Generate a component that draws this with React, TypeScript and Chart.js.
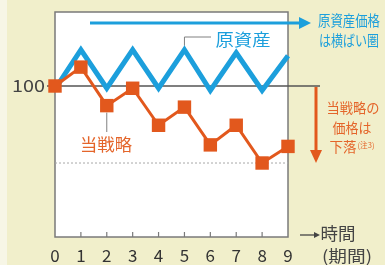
import React, { useEffect, useRef } from "react";
import { Chart, registerables } from "chart.js";
Chart.register(...registerables);

const periods = ["0", "1", "2", "3", "4", "5", "6", "7", "8", "9"];
const underlying = [98, 124, 98.5, 124, 98.5, 124, 97, 122, 97, 120];
const strategy = [100, 112.5, 87, 98.5, 74, 86, 61, 74, 49, 60];
const yTickLabels = ["100"];
const baseLevel = 100;
const floorLevel = 49;
const yMin = 0;
const yMax = 149;

const FONT = "'Noto Sans CJK JP', 'Noto Sans', sans-serif";
const BLUE = "#1c9fdc";
const ORANGE = "#e2581d";
const ORANGE_TXT = "#e4652a";
const CREAM = "#f1efcb";

function fitText(ctx: CanvasRenderingContext2D, s: string, cx: number, cy: number, size: number, color: string, width?: number, align: CanvasTextAlign = "center") {
  ctx.save();
  ctx.font = `${size}px ${FONT}`;
  ctx.fillStyle = color;
  ctx.textBaseline = "middle";
  ctx.textAlign = align;
  const w = ctx.measureText(s).width;
  const sx = width ? width / w : 1;
  ctx.translate(cx, cy);
  ctx.scale(sx, 1);
  ctx.fillText(s, 0, 0);
  ctx.restore();
}

const decor = {
  id: "decor",
  beforeDraw(chart: any) {
    const { ctx, chartArea: a, width, height } = chart;
    ctx.save();
    ctx.fillStyle = CREAM;
    ctx.fillRect(0, 0, width, height);
    ctx.fillStyle = "#f7f6e6";
    ctx.fillRect(0, 0, 7, height);
    ctx.fillStyle = "#ffffff";
    ctx.fillRect(a.left, a.top, a.right - a.left, a.bottom - a.top);
    ctx.restore();
  },
  beforeDatasetsDraw(chart: any) {
    const { ctx, chartArea: a, scales } = chart;
    const y = scales.y;
    const x = scales.x;
    ctx.save();
    // plot border
    ctx.strokeStyle = "#7a7a7a";
    ctx.lineWidth = 1.5;
    ctx.strokeRect(a.left, a.top, a.right - a.left, a.bottom - a.top);
    // inner ticks
    ctx.lineWidth = 1.2;
    for (let i = 1; i < periods.length - 1; i++) {
      const px = x.getPixelForValue(i);
      ctx.beginPath();
      ctx.moveTo(px, a.bottom);
      ctx.lineTo(px, a.bottom - 5);
      ctx.stroke();
    }
    // x tick labels
    periods.forEach((lab, i) => {
      fitText(ctx, lab, x.getPixelForValue(i), a.bottom + 19, 17, "#333");
    });
    // y tick label
    yTickLabels.forEach((lab) => {
      fitText(ctx, lab, a.left - 10, y.getPixelForValue(Number(lab)), 17, "#444", 33, "right");
    });
    // dashed floor line
    const fy = y.getPixelForValue(floorLevel);
    ctx.strokeStyle = "#a8a8a8";
    ctx.lineWidth = 1;
    ctx.setLineDash([2, 2]);
    ctx.beginPath();
    ctx.moveTo(a.left, fy);
    ctx.lineTo(a.right, fy);
    ctx.stroke();
    ctx.setLineDash([]);
    // base line 100
    const by = y.getPixelForValue(baseLevel);
    ctx.strokeStyle = "#555555";
    ctx.lineWidth = 1.5;
    ctx.beginPath();
    ctx.moveTo(a.left - 8, by);
    ctx.lineTo(320, by);
    ctx.stroke();
    // leader lines
    ctx.strokeStyle = "#808080";
    ctx.lineWidth = 1;
    const p5x = x.getPixelForValue(5);
    ctx.beginPath();
    ctx.moveTo(p5x, y.getPixelForValue(underlying[5]) - 4);
    ctx.lineTo(p5x, 37);
    ctx.lineTo(211, 37);
    ctx.stroke();
    const p2x = x.getPixelForValue(2);
    ctx.beginPath();
    ctx.moveTo(p2x, y.getPixelForValue(strategy[2]) + 7);
    ctx.lineTo(p2x, 132);
    ctx.stroke();
    ctx.restore();
  },
  afterDatasetsDraw(chart: any) {
    const { ctx } = chart;
    ctx.save();
    // blue arrow
    ctx.strokeStyle = BLUE;
    ctx.fillStyle = BLUE;
    ctx.lineWidth = 3;
    ctx.beginPath();
    ctx.moveTo(90, 23);
    ctx.lineTo(301, 23);
    ctx.stroke();
    ctx.beginPath();
    ctx.moveTo(299, 17);
    ctx.lineTo(311, 23);
    ctx.lineTo(299, 29);
    ctx.closePath();
    ctx.fill();
    // orange arrow
    ctx.strokeStyle = ORANGE;
    ctx.fillStyle = ORANGE;
    ctx.beginPath();
    ctx.moveTo(316, 87);
    ctx.lineTo(316, 151);
    ctx.stroke();
    ctx.beginPath();
    ctx.moveTo(310, 150);
    ctx.lineTo(322, 150);
    ctx.lineTo(316, 163);
    ctx.closePath();
    ctx.fill();
    // time arrow
    ctx.strokeStyle = "#444";
    ctx.fillStyle = "#444";
    ctx.lineWidth = 1.3;
    ctx.beginPath();
    ctx.moveTo(300, 235);
    ctx.lineTo(316, 235);
    ctx.stroke();
    ctx.beginPath();
    ctx.moveTo(314, 232);
    ctx.lineTo(320, 235);
    ctx.lineTo(314, 238);
    ctx.closePath();
    ctx.fill();
    ctx.restore();

    fitText(ctx, "原資産", 243, 40, 17, BLUE, 55);
    fitText(ctx, "原資産価格", 349, 20, 15, BLUE, 62);
    fitText(ctx, "は横ばい圏", 349, 40, 15, BLUE, 60);
    fitText(ctx, "当戦略", 106, 145, 17, ORANGE_TXT, 52);
    fitText(ctx, "当戦略の", 353, 108, 14, ORANGE_TXT, 53);
    fitText(ctx, "価格は", 352, 128, 14, ORANGE_TXT, 39);
    fitText(ctx, "下落", 343, 147, 14, ORANGE_TXT, 27);
    fitText(ctx, "(注3)", 366, 145, 8, ORANGE_TXT, 17);
    fitText(ctx, "時間", 338, 234, 17, "#444", 35);
    fitText(ctx, "(期間)", 347, 256, 16, "#444", 50);
  },
};

export default function App() {
  const ref = useRef<HTMLCanvasElement | null>(null);
  useEffect(() => {
    document.body.style.margin = "0";
    const chart = new Chart(ref.current as HTMLCanvasElement, {
      type: "line",
      data: {
        labels: periods,
        datasets: [
          {
            label: "当戦略",
            data: strategy,
            borderColor: ORANGE,
            backgroundColor: ORANGE,
            borderWidth: 3,
            pointStyle: "rect",
            pointRadius: 9.5,
            pointBorderWidth: 0,
            tension: 0,
            clip: false as any,
          },
          {
            label: "原資産",
            data: underlying,
            borderColor: BLUE,
            borderWidth: 5,
            borderJoinStyle: "miter",
            pointRadius: 0,
            tension: 0,
            clip: false as any,
          },
        ],
      },
      options: {
        animation: false,
        responsive: false,
        maintainAspectRatio: false,
        layout: { padding: { left: 55, top: 12, right: 97, bottom: 28 } },
        plugins: { legend: { display: false }, tooltip: { enabled: false } },
        scales: {
          x: { display: false, offset: false },
          y: { display: false, min: yMin, max: yMax },
        },
      },
      plugins: [decor],
    });
    return () => chart.destroy();
  }, []);
  return (
    <div style={{ position: "absolute", left: 0, top: 0, width: 385, height: 265 }}>
      <canvas ref={ref} width={385} height={265} style={{ display: "block" }} />
    </div>
  );
}
